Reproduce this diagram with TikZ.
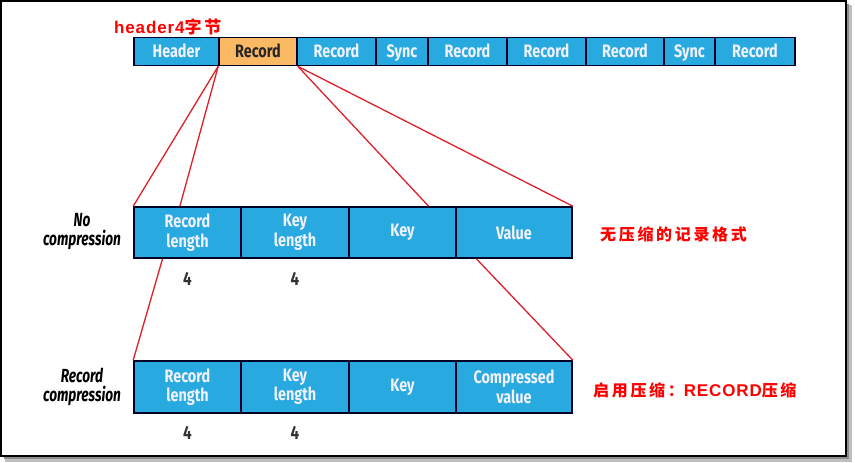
\documentclass[tikz,border=0pt]{standalone}
\usepackage{fontspec}
\usepackage{tikz}
\usetikzlibrary{calc}
\newfontfamily\fldfont[FakeStretch=0.8]{Fira Sans}
\newfontfamily\sidefont[FakeStretch=0.72]{Fira Sans}
\newfontfamily\hdfont[LetterSpace=5]{Liberation Sans}
\newfontfamily\cjkfont{Noto Sans CJK SC}
\definecolor{fldblue}{RGB}{40,170,225}
\definecolor{fldorange}{RGB}{252,185,100}
\definecolor{linkred}{RGB}{222,32,42}
\tikzset{
  fld/.style={draw=black!85!blue, line width=1.6pt, fill=fldblue, text=white!95!blue,
    inner sep=0pt, align=center, font=\fldfont\bfseries\fontsize{18}{19.5}\selectfont},
  topfld/.style={fld, minimum height=28, text height=13, text depth=0.5},
  link/.style={draw=linkred, line width=1.3pt},
  note/.style={text=red, inner sep=0pt, anchor=west},
  lenlabel/.style={text=black!80, font=\fldfont\bfseries\fontsize{19}{19}\selectfont},
  side/.style={align=center, font=\sidefont\bfseries\itshape\fontsize{19}{19}\selectfont}
}
\begin{document}
\begin{tikzpicture}[x=1pt,y=-1pt]
\useasboundingbox (0,0) rectangle (855,463);
% frame with shadow
\fill [black!25] (5,5) rectangle (852,462);
\fill [black!45] (4,4) rectangle (849,459);
\draw [black, line width=1.6pt, fill=white] (1,1) rectangle (846,456);
% top row
\node [topfld, minimum width=85] (hdr) at (176.5,51.5) {Header};
\node [topfld, fill=fldorange, text=black!85, minimum width=78] (rec1) at (258,51.5) {Record};
\node [topfld, minimum width=79] (rec2) at (336.5,51.5) {Record};
\node [topfld, minimum width=52] (sync1) at (402,51.5) {Sync};
\node [topfld, minimum width=79] (rec3) at (467.5,51.5) {Record};
\node [topfld, minimum width=79] (rec4) at (546.5,51.5) {Record};
\node [topfld, minimum width=78] (rec5) at (625,51.5) {Record};
\node [topfld, minimum width=51] (sync2) at (689.5,51.5) {Sync};
\node [topfld, minimum width=80] (rec6) at (755,51.5) {Record};
\node [note] (hdrnote) at (114,27) {\hdfont\bfseries\fontsize{17}{17}\selectfont header4\cjkfont 字\,节};
% no compression
\node [fld, minimum width=107, minimum height=51] (rl1) at (187.5,232.5) {Record\\length};
\node [fld, minimum width=108, minimum height=51] (kl1) at (295,232.5) {Key\\length};
\node [fld, minimum width=107, minimum height=51] (key1) at (402.5,232.5) {Key};
\node [fld, minimum width=116, minimum height=51] (val1) at (514,232.5) {Value};
\node [lenlabel] (n1) at (187.5,279) {4};
\node [lenlabel] (n2) at (295,279) {4};
\node [side] (nocomp) at (82,232) {No\\compression};
\node [note] (nonote) at (600,234) {\cjkfont\bfseries\fontsize{16}{16}\selectfont 无\,压\,缩\,的\,记\,录\,格\,式};
% record compression
\node [fld, minimum width=107, minimum height=52] (rl2) at (187.5,387) {Record\\length};
\node [fld, minimum width=108, minimum height=52] (kl2) at (295,387) {Key\\length};
\node [fld, minimum width=107, minimum height=52] (key2) at (402.5,387) {Key};
\node [fld, minimum width=116, minimum height=52] (val2) at (514,387) {Compressed\\value};
\node [lenlabel] (n3) at (187.5,433) {4};
\node [lenlabel] (n4) at (295,433) {4};
\node [side] (reccomp) at (82,387) {Record\\compression};
\node [note] (recnote) at (593,390) {\cjkfont\bfseries\fontsize{16}{16}\selectfont 启\,用\,压\,缩\,：{\hdfont\fontsize{17}{17}\selectfont RECORD}压\,缩};
% links
\draw [link] (rec1.south west) -- (rl1.north west);
\draw [link] (rec1.south west) -- ($(rl1.north west)!0.43!(rl1.north east)$);
\draw [link] (rec1.south east) -- ($(key1.north west)!0.74!(key1.north east)$);
\draw [link] (rec1.south east) -- (val1.north east);
\draw [link] ($(rl1.south west)!0.27!(rl1.south east)$) -- (rl2.north west);
\draw [link] ($(val1.south west)!0.18!(val1.south east)$) -- (val2.north east);
\end{tikzpicture}
\end{document}
